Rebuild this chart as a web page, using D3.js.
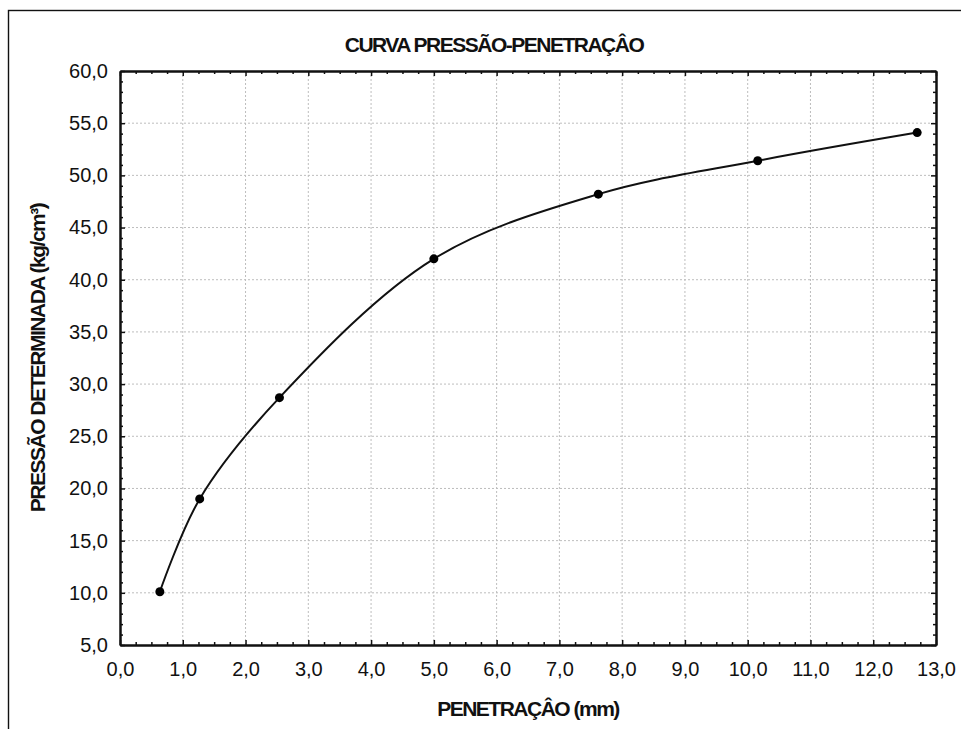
<!DOCTYPE html>
<html>
<head>
<meta charset="utf-8">
<script src="https://cdn.jsdelivr.net/npm/d3@7"></script>
<style>
  html, body { margin: 0; padding: 0; background: #fff; }
  svg { display: block; }
  text { font-family: "Liberation Sans", Arial, sans-serif; fill: #111; }
</style>
</head>
<body>
<svg id="chart" width="961" height="729"></svg>
<script>
// Penetration (mm) and measured pressure (kg/cm³)
const penetracao = [0.635, 1.27, 2.54, 5.0, 7.62, 10.16, 12.7];
const pressao = [10.1, 19.0, 28.7, 42.0, 48.2, 51.4, 54.1];

const xTicks = d3.range(0, 13.01, 1);
const yTicks = d3.range(5, 60.01, 5);

const titulo = "CURVA PRESSÃO-PENETRAÇÂO";
const tituloX = "PENETRAÇÂO (mm)";
const tituloY = "PRESSÃO DETERMINADA (kg/cm³)";

const svg = d3.select("#chart");
const m = { left: 120, top: 71, right: 936, bottom: 645 };

const x = d3.scaleLinear().domain([0, 13]).range([m.left, m.right]);
const y = d3.scaleLinear().domain([5, 60]).range([m.bottom, m.top]);
const fmt = v => d3.format(".1f")(v).replace(".", ",");

// outer frame (runs off the right and bottom edges)
svg.append("rect")
  .attr("x", 8.5).attr("y", 10.5)
  .attr("width", 1200).attr("height", 1200)
  .attr("fill", "none").attr("stroke", "#111").attr("stroke-width", 1.4);

// dotted grid
const grid = svg.append("g").attr("stroke", "#bdbdbd").attr("stroke-width", 1)
  .attr("stroke-dasharray", "2,2");
xTicks.slice(1, -1).forEach(t => {
  grid.append("line").attr("x1", x(t)).attr("x2", x(t))
    .attr("y1", m.top).attr("y2", m.bottom);
});
yTicks.slice(1, -1).forEach(t => {
  grid.append("line").attr("y1", y(t)).attr("y2", y(t))
    .attr("x1", m.left).attr("x2", m.right);
});

// axes with inward ticks on all four sides
const minorX = d3.range(0, 13.001, 0.25).filter(v => Math.abs(v - Math.round(v)) > 1e-6);
const minorY = d3.range(5, 60.001, 1).filter(v => v % 5 !== 0);

const axB = d3.axisBottom(x).tickValues(xTicks).tickSizeInner(-5).tickSizeOuter(0).tickPadding(17).tickFormat(fmt);
const axT = d3.axisTop(x).tickValues(xTicks).tickSizeInner(-5).tickSizeOuter(0).tickFormat("");
const axL = d3.axisLeft(y).tickValues(yTicks).tickSizeInner(-5).tickSizeOuter(0).tickPadding(12).tickFormat(fmt);
const axR = d3.axisRight(y).tickValues(yTicks).tickSizeInner(-5).tickSizeOuter(0).tickFormat("");

const mnB = d3.axisBottom(x).tickValues(minorX).tickSizeInner(-3).tickSizeOuter(0).tickFormat("");
const mnT = d3.axisTop(x).tickValues(minorX).tickSizeInner(-3).tickSizeOuter(0).tickFormat("");
const mnL = d3.axisLeft(y).tickValues(minorY).tickSizeInner(-3).tickSizeOuter(0).tickFormat("");
const mnR = d3.axisRight(y).tickValues(minorY).tickSizeInner(-3).tickSizeOuter(0).tickFormat("");

function styleAxis(g) {
  g.attr("font-size", 20).attr("font-family", "Liberation Sans, Arial, sans-serif");
  g.select(".domain").attr("stroke", "#111").attr("stroke-width", 2);
  g.selectAll(".tick line").attr("stroke", "#111").attr("stroke-width", 1.5);
  g.selectAll(".tick text").attr("fill", "#111");
}
[[mnB, m.bottom], [mnT, m.top]].forEach(([a, ty]) =>
  svg.append("g").attr("transform", `translate(0,${ty})`).call(a).call(styleAxis));
[[mnL, m.left], [mnR, m.right]].forEach(([a, tx]) =>
  svg.append("g").attr("transform", `translate(${tx},0)`).call(a).call(styleAxis));
svg.append("g").attr("transform", `translate(0,${m.bottom})`).call(axB).call(styleAxis);
svg.append("g").attr("transform", `translate(0,${m.top})`).call(axT).call(styleAxis);
svg.append("g").attr("transform", `translate(${m.left},0)`).call(axL).call(styleAxis);
svg.append("g").attr("transform", `translate(${m.right},0)`).call(axR).call(styleAxis);

// fitted curve through the readings
const pts = penetracao.map((v, i) => [v, pressao[i]]);
svg.append("path")
  .datum(pts)
  .attr("fill", "none").attr("stroke", "#111").attr("stroke-width", 2)
  .attr("d", d3.line().x(d => x(d[0])).y(d => y(d[1])).curve(d3.curveCatmullRom.alpha(0.5)));

svg.append("g").selectAll("circle").data(pts).join("circle")
  .attr("cx", d => x(d[0])).attr("cy", d => y(d[1])).attr("r", 4.5)
  .attr("fill", "#000");

// titles
const titleStyle = t => t.attr("font-size", 21).attr("font-weight", "bold")
  .attr("letter-spacing", -1.5).attr("text-anchor", "middle");
svg.append("text").attr("x", 494).attr("y", 52).call(titleStyle).text(titulo);
svg.append("text").attr("x", 528).attr("y", 716).call(titleStyle).text(tituloX);
svg.append("text").attr("transform", "translate(45,358) rotate(-90)")
  .call(titleStyle).text(tituloY);
</script>
</body>
</html>
